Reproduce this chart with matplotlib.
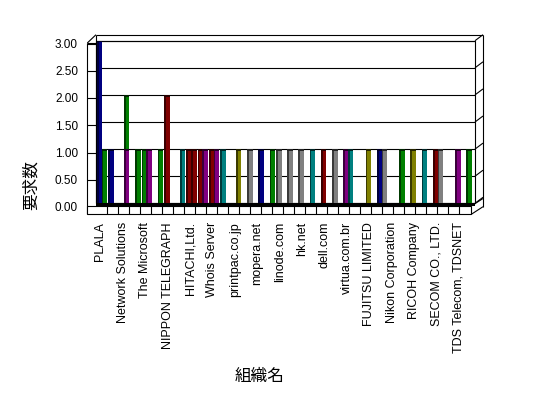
import matplotlib
matplotlib.use('Agg')
import matplotlib.pyplot as plt
import matplotlib.patches as patches
import matplotlib.transforms as mtransforms
import numpy as np

plt.rcParams['font.family'] = ['Liberation Sans', 'Noto Sans CJK JP']

# --- data -------------------------------------------------------------
n_cats = 34
# only every other category name is printed on the axis
shown_labels = ['PLALA', 'Network Solutions', 'The Microsoft', 'NIPPON TELEGRAPH',
                'HITACHI,Ltd.', 'Whois Server', 'printpac.co.jp', 'mopera.net',
                'linode.com', 'hk.net', 'dell.com', 'virtua.com.br',
                'FUJITSU LIMITED', 'Nikon Corporation', 'RICOH Company',
                'SECOM CO., LTD.', 'TDS Telecom, TDSNET']

left_vals = [3, 1, 0, 0, 1, 0, 2, 0, 1, 1, 1, 1, 0, 0, 0, 0, 1,
             1, 1, 1, 1, 1, 1, 0, 1, 1, 0, 1, 1, 1, 1, 0, 1, 1]
left_cols = ['navy', 'navy', '', '', 'green', '', 'maroon', '', 'maroon', 'maroon',
             'maroon', 'teal', '', '', '', '', 'gray', 'gray', 'gray', 'teal',
             'maroon', 'gray', 'purple', '', 'olive', 'navy', '', 'green', 'olive',
             'teal', 'maroon', '', 'purple', 'green']

right_vals = [1, 0, 1, 1, 1, 1, 0, 1, 1, 1, 1, 0, 1, 1, 1, 1, 0,
              0, 0, 0, 0, 0, 1, 0, 0, 1, 0, 0, 0, 0, 1, 0, 0, 0]
right_cols = ['green', '', 'purple', 'green', 'purple', 'green', '', 'teal', 'maroon',
              'purple', 'purple', '', 'olive', 'gray', 'navy', 'green', '', '', '', '',
              '', '', 'teal', '', '', 'gray', '', '', '', '', 'gray', '', '', '']

# extra piece stacked on the right-hand bar
stack_vals = [0, 0, 1] + [0] * 31
stack_cols = ['', '', 'green'] + [''] * 31

yticks = [0.0, 0.5, 1.0, 1.5, 2.0, 2.5, 3.0]

palette = {'navy': '#000080', 'green': '#008000', 'purple': '#800080',
           'maroon': '#800000', 'teal': '#008080', 'olive': '#808000',
           'gray': '#808080'}

# --- figure -----------------------------------------------------------
W, H = 548, 398
fig = plt.figure(figsize=(W / 100, H / 100), dpi=100)
fig.patch.set_facecolor('white')

# back wall face: x 96..475 px, y 40.7..203.3 px
x0p, x1p, ytop, ybot = 96, 475, 40.7, 203.3
ax = fig.add_axes([x0p / W, 1 - ybot / H, (x1p - x0p) / W, (ybot - ytop) / H])
xmax = 33.84
ax.set_xlim(0, xmax)
ax.set_ylim(0, 3)
for s in ax.spines.values():
    s.set_visible(False)

px = xmax / (x1p - x0p)       # data units per pixel (x)
py = 3 / (ybot - ytop)        # data units per pixel (y)


def X(p):
    return (p - x0p) * px


def Y(p):
    return (ybot - p) * py


LW = 0.8
line_kw = dict(color='black', lw=LW, clip_on=False, solid_capstyle='butt')
dx, dy = 8 * px, 6 * py

# back wall
ax.add_patch(patches.Rectangle((0, 0), xmax, 3, fc='white', ec='black', lw=LW,
                               zorder=0, clip_on=False))
for v in yticks:
    ax.plot([0, xmax], [v, v], zorder=1, **line_kw)
    ax.plot([xmax, xmax + dx], [v, v + dy], zorder=1, **line_kw)
    # left wall gridline
    ax.plot([X(87.3), 0], [v - 3.4 * py, v - 3.4 * py], zorder=1, **line_kw)
ax.plot([0, xmax + dx], [3 + dy, 3 + dy], **line_kw)
ax.plot([xmax + dx, xmax + dx], [3 + dy, Y(206.7)], **line_kw)

# left wall
ax.plot([X(87.3), X(87.3)], [Y(43), Y(214.3)], **line_kw)
ax.plot([X(87.3), 0], [Y(43), 3 + dy], **line_kw)
ax.plot([X(87.3), 0], [Y(43), Y(43)], **line_kw)
ax.plot([0, 0], [3 + dy, 0], **line_kw)

# floor
ax.add_patch(patches.Rectangle((0, Y(205.8)), xmax, Y(203.3) - Y(205.8),
                               fc='black', ec='none', zorder=2, clip_on=False))
ax.add_patch(patches.Rectangle((X(87.3), Y(214.3)), X(471.3) - X(87.3),
                               Y(206) - Y(214.3), fc='white', ec='black', lw=LW,
                               zorder=2, clip_on=False))
for k in range(n_cats - 1):
    xt = X(107.3 + 11 * k)
    ax.plot([xt, xt], [Y(214.3), Y(206)], zorder=3, **line_kw)
ax.plot([X(471.3), xmax + dx], [Y(214.3), Y(206.7)], **line_kw)
ax.plot([X(471.3), xmax + dx], [Y(206), Y(198.5)], **line_kw)

# --- bars ---------------------------------------------------------------
side_w, front_w = 0.16, 0.33
slot_off = [0.08, 0.50]


def shade(c, f=0.45):
    r, g, b = matplotlib.colors.to_rgb(c)
    return (r * f, g * f, b * f)


def draw_bar(x, bottom, h, cname):
    col = palette[cname]
    ax.bar(x, h, width=side_w, bottom=bottom, align='edge',
           color=shade(col), edgecolor='none', zorder=5, clip_on=False)
    ax.bar(x + side_w, h, width=front_w, bottom=bottom, align='edge',
           color=col, edgecolor='none', zorder=5, clip_on=False)
    # little top cap
    ax.bar(x, 1.6 * py, width=side_w + front_w, bottom=bottom + h - 1.6 * py,
           align='edge', color=shade(col, 0.3), edgecolor='none', zorder=6,
           clip_on=False)


idx = np.arange(n_cats)
for i in idx:
    if left_vals[i] > 0:
        draw_bar(i + slot_off[0], 0, left_vals[i], left_cols[i])
    if right_vals[i] > 0:
        draw_bar(i + slot_off[1], 0, right_vals[i], right_cols[i])
    if stack_vals[i] > 0:
        draw_bar(i + slot_off[1], right_vals[i], stack_vals[i], stack_cols[i])

# --- axes text ----------------------------------------------------------
ax.set_yticks(yticks)
ax.set_yticklabels([f'{v:.2f}' for v in yticks], fontsize=8.5)
ax.tick_params(axis='y', length=0, pad=13)
off = mtransforms.ScaledTranslation(0, -3 / 100, fig.dpi_scale_trans)
for lab in ax.get_yticklabels():
    lab.set_transform(lab.get_transform() + off)

ax.set_xticks(idx[::2] + 0.4)
ax.set_xticklabels(shown_labels, rotation=90, fontsize=9, va='top', ha='center')
ax.tick_params(axis='x', length=0, pad=13.5)

ax.set_xlabel('組織名', fontsize=12)
ax.xaxis.set_label_coords(X(260) / xmax, Y(376) / 3)
ax.xaxis.label.set_va('center')
ax.set_ylabel('要求数', fontsize=12)
ax.yaxis.set_label_coords(X(31) / xmax, Y(185) / 3)
ax.yaxis.label.set_va('center')

fig.savefig('out.png', dpi=100, facecolor='white')
plt.close(fig)
